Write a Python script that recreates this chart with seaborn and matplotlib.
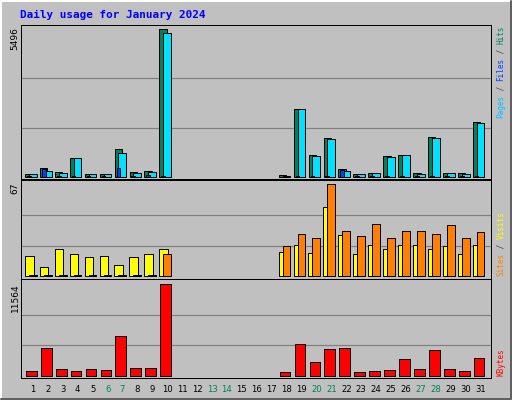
import numpy as np
import matplotlib
matplotlib.use("Agg")
import matplotlib.pyplot as plt
from matplotlib.patches import Rectangle
from matplotlib.lines import Line2D
import seaborn as sns

days = np.arange(1, 32)
hits = [100, 324, 174, 696, 100, 100, 1032, 174, 211, 5496,
        0, 0, 0, 0, 0, 0, 0,
        62, 2510, 808, 1442, 286, 100, 137, 771, 808, 137, 1479, 137, 137, 2038]
files = [100, 211, 137, 696, 100, 100, 883, 137, 174, 5357,
         0, 0, 0, 0, 0, 0, 0,
         40, 2510, 771, 1405, 211, 100, 137, 733, 808, 100, 1442, 137, 100, 2000]
pages = [10, 286, 30, 20, 10, 10, 324, 40, 60, 20,
         0, 0, 0, 0, 0, 0, 0,
         5, 20, 20, 40, 250, 20, 40, 20, 20, 20, 30, 20, 20, 20]
visits = [15, 7, 20, 16, 14, 15, 8, 14, 16, 20,
          0, 0, 0, 0, 0, 0, 0,
          18, 23, 17, 50, 30, 16, 23, 20, 23, 23, 20, 22, 16, 23]
sites = [1, 1, 1, 1, 1, 1, 1, 1, 1, 16,
         0, 0, 0, 0, 0, 0, 0,
         22, 31, 28, 67, 33, 29, 38, 28, 33, 33, 31, 37, 28, 32]
kbytes = [547, 3448, 799, 547, 799, 673, 4962, 925, 925, 11564,
          0, 0, 0, 0, 0, 0, 0,
          420, 3953, 1682, 3322, 3448, 420, 547, 673, 2060, 799, 3196, 799, 547, 2187]
weekend_days = [6, 7, 13, 14, 20, 21, 27, 28]

BG = "#C0C0C0"
GRID = "#808080"
C_HITS, C_FILES, C_PAGES = "#00805C", "#00E0FF", "#0040FF"
C_VISITS, C_SITES, C_KB = "#FFFF00", "#FF8000", "#FF0000"
mono = "DejaVu Sans Mono"

sns.set_theme(style="white")
W, H = 512, 400
fig = plt.figure(figsize=(W / 72, H / 72), dpi=72, facecolor=BG)

def px_axes(left, top, right, bottom):
    return fig.add_axes([left / W, 1 - bottom / H, (right - left) / W, (bottom - top) / H])

def px(x, y):
    return x / W, 1 - y / H

# bevel frame
fig.add_artist(Line2D([1 / W, 1 / W, 1 - 1 / W], [0, 1 - 1 / H, 1 - 1 / H], color="white", lw=2))
fig.add_artist(Line2D([1 / W, 1 - 1 / W, 1 - 1 / W], [1 / H, 1 / H, 1 - 1 / H], color="#606060", lw=2))

def bars(ax, vals, off, width, color):
    v = np.array(vals, dtype=float)
    m = v > 0
    ax.bar(days[m] + off, v[m], width=width, align="edge", color=color,
           edgecolor="black", linewidth=1, zorder=3)

def setup(ax, vmax, top_px, base_px, axtop, axbot):
    span = base_px - top_px
    lo = -vmax * (axbot - base_px) / span
    hi = vmax + vmax * (top_px - axtop) / span
    ax.set_ylim(lo, hi)
    ax.set_xlim(0.2, 31.69)
    ax.set_facecolor(BG)
    for y in (vmax / 3, 2 * vmax / 3):
        ax.axhline(y, color=GRID, lw=1.2, zorder=1)
    ax.set_xticks([])
    ax.set_yticks([])
    for s in ax.spines.values():
        s.set_color("black")
        s.set_linewidth(1)

# top panel
ax1 = px_axes(21, 25, 491, 179)
setup(ax1, max(hits), 29.3, 176.7, 25, 179)
bars(ax1, hits, -0.53, 0.5, C_HITS)
bars(ax1, files, -0.27, 0.52, C_FILES)
bars(ax1, pages, -0.4, 0.25, C_PAGES)

# middle panel
ax2 = px_axes(21, 179.5, 491, 279)
setup(ax2, max(sites), 184, 276.3, 179.5, 279)
bars(ax2, visits, -0.54, 0.58, C_VISITS)
bars(ax2, sites, -0.27, 0.52, C_SITES)

# bottom panel
ax3 = px_axes(21, 279, 491, 378)
setup(ax3, max(kbytes), 284, 375.7, 279, 378)
bars(ax3, kbytes, -0.47, 0.72, C_KB)

# titles and max labels
fig.text(*px(20, 15), "Daily usage for January 2024", color="#0000FF", fontsize=11,
         fontweight="bold", family=mono, va="center", ha="left")
for val, ytop in ((max(hits), 27), (max(sites), 182), (max(kbytes), 283)):
    fig.text(*px(15, ytop), str(val), rotation=90, fontsize=9, color="black",
             ha="center", va="top")

# right-side legends, reading upward
def vlabel(parts, x, ybottom):
    y = ybottom
    for txt, col in parts:
        fig.text(*px(x, y), txt, rotation=90, rotation_mode="anchor", ha="left",
                 va="center", fontsize=7.6, family=mono, color=col)
        y -= len(txt) * 4.6

vlabel([("Pages", "#00C0FF"), (" / ", "#404040"), ("Files", C_PAGES),
        (" / ", "#404040"), ("Hits", C_HITS)], 501, 118)
vlabel([("Sites", C_SITES), (" / ", "#404040"), ("Visits", C_VISITS)], 501, 276)
vlabel([("KBytes", C_KB)], 501, 376)

# day labels
for d in days:
    x = 21 + (d - 0.2) / (31.69 - 0.2) * 470
    fig.text(*px(x, 389), str(d), ha="center", va="center", fontsize=8.5,
             color=C_HITS if d in weekend_days else "black")

fig.savefig("out.png", dpi=72, facecolor=BG)
